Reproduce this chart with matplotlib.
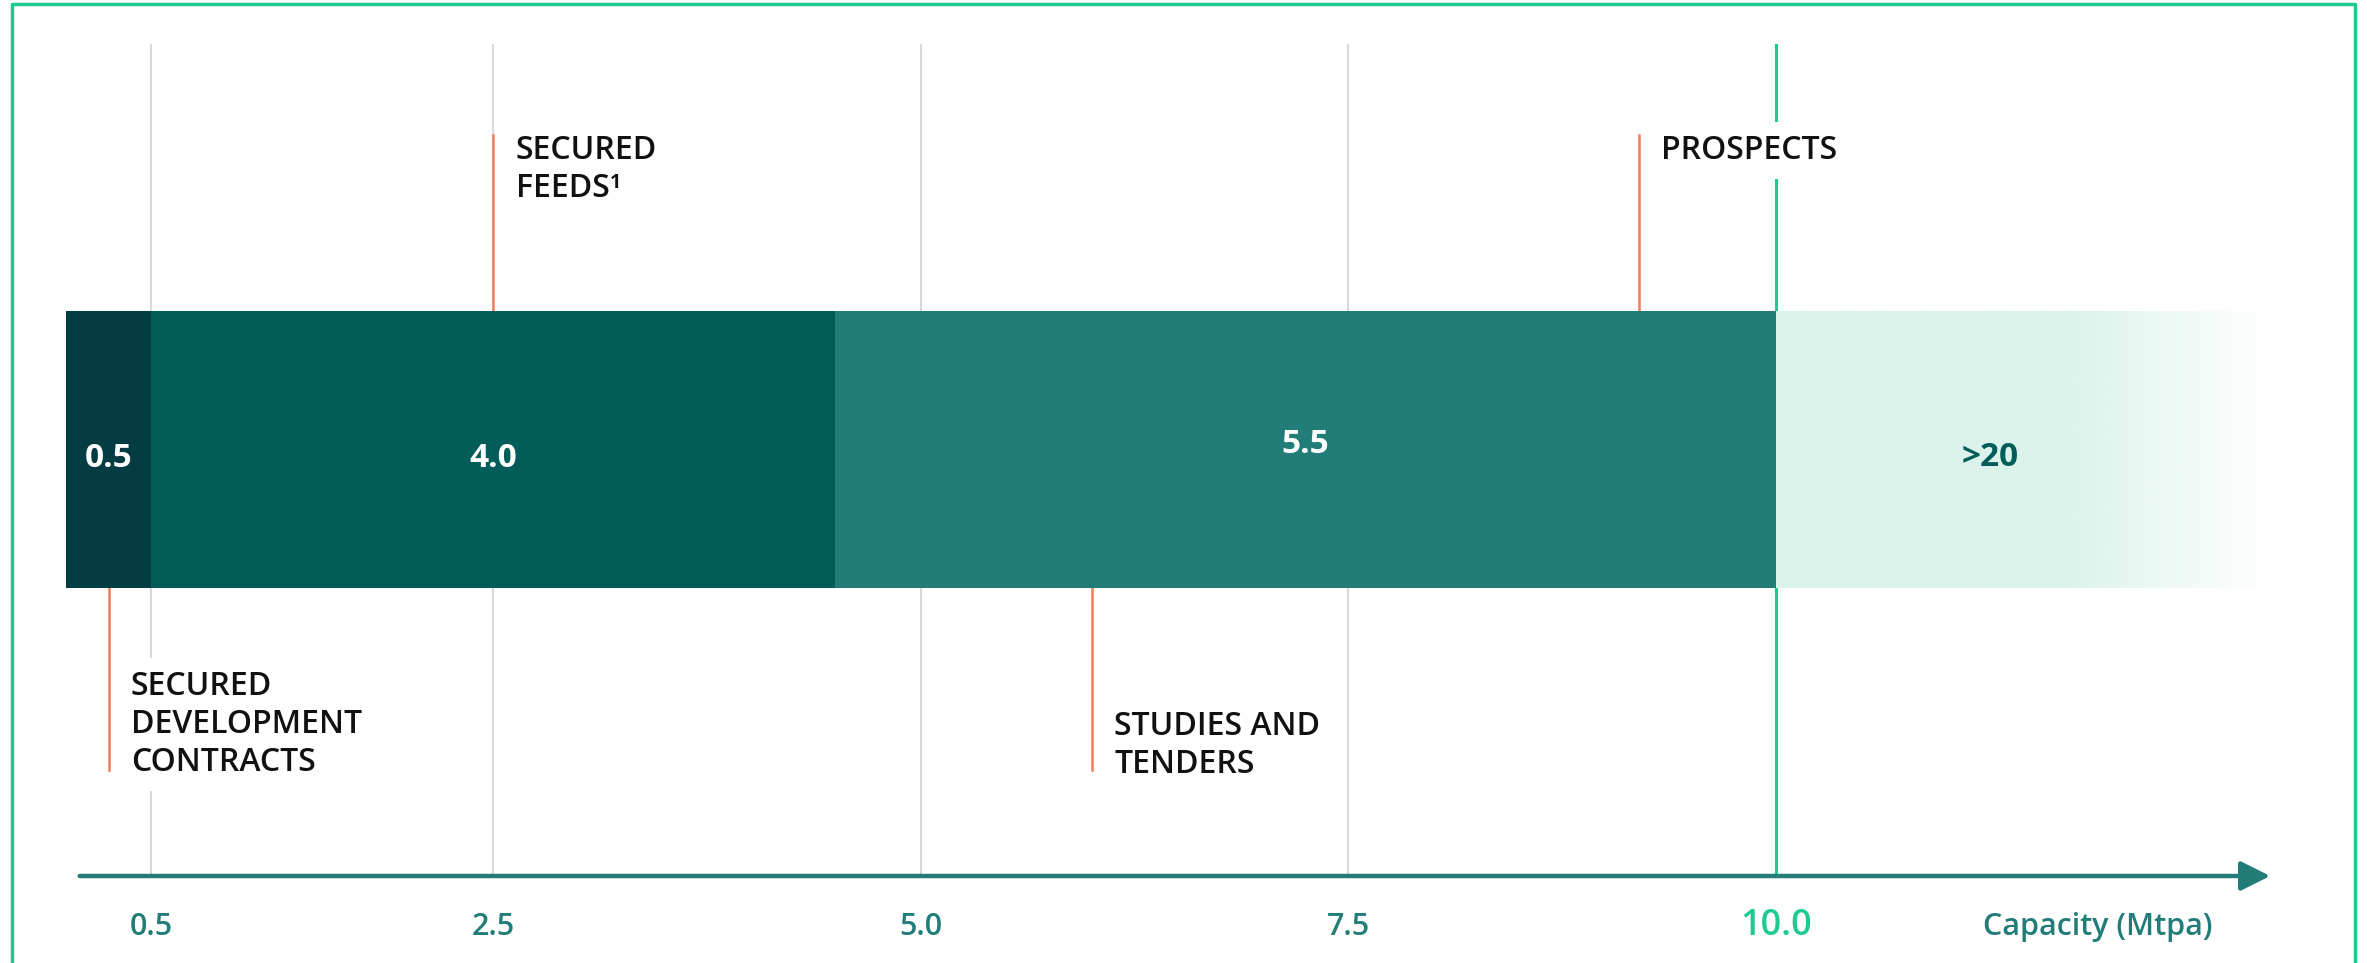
import numpy as np
import matplotlib
matplotlib.use("Agg")
import matplotlib.pyplot as plt
from matplotlib.lines import Line2D

plt.rcParams['font.family'] = ['Open Sans', 'DejaVu Sans']

# data
seg_values = [0.5, 4.0, 5.5]
seg_labels = ['0.5', '4.0', '5.5']
seg_colors = ['#033c42', '#025c59', '#227d79']
prospects_label = '>20'
tick_values = [0.5, 2.5, 5.0, 7.5, 10.0]
tick_labels = ['0.5', '2.5', '5.0', '7.5', '10.0']
stage_names = ['SECURED\nDEVELOPMENT\nCONTRACTS', 'SECURED\nFEEDS\u00b9',
               'STUDIES AND\nTENDERS', 'PROSPECTS']
stage_x = [0.25, 2.5, 6.0, 9.2]
stage_side = ['below', 'above', 'below', 'above']

W, H = 2367, 963
fig = plt.figure(figsize=(W / 100, H / 100), dpi=100)
ax = fig.add_axes([0, 0, 1, 1])
# x in Mtpa, y in pixels from the top
px_per_unit = 171.0
x0 = -66 / px_per_unit
ax.set_xlim(x0, x0 + W / px_per_unit)
ax.set_ylim(H, 0)
ax.axis('off')

teal = '#227d79'
green = '#1ccb8d'
orange = '#f47c5c'
bar_top, bar_bot = 311, 588
axis_y = 876

# grid lines
for v in tick_values[:-1]:
    ax.plot([v, v], [45, axis_y], color='#d9d9d9', lw=1.5, zorder=1)
ax.plot([10, 10], [45, axis_y], color=green, lw=2.2, zorder=1)

# stacked bar
lefts = np.concatenate([[0], np.cumsum(seg_values)[:-1]])
ax.barh((bar_top + bar_bot) / 2, seg_values, left=lefts, height=bar_bot - bar_top,
        color=seg_colors, zorder=3)
total = sum(seg_values)

# fading prospects bar
fade_end = 12.95
xs = np.linspace(total, fade_end, 400)
alpha = np.interp(xs, [total, 11.7, 12.3, 12.9], [1, 1, 0.45, 0])
img = np.zeros((1, len(xs), 4))
img[..., :3] = matplotlib.colors.to_rgb('#dbf3eb')
img[0, :, 3] = alpha
ax.imshow(img, extent=[total, fade_end, bar_bot, bar_top], aspect='auto',
          interpolation='bilinear', zorder=3)

# value labels
label_base = [467, 467, 453]
for left, v, lab, yb in zip(lefts, seg_values, seg_labels, label_base):
    ax.text(left + v / 2, yb, lab, ha='center', va='baseline', color='white',
            fontsize=24, fontweight='bold', zorder=5)
ax.text(11.25, 466, prospects_label, ha='center', va='baseline', color='#025c59',
        fontsize=24, fontweight='bold', zorder=5)

# stage leaders and labels
for name, sx, side in zip(stage_names, stage_x, stage_side):
    if side == 'above':
        ax.plot([sx, sx], [135, bar_top], color=orange, lw=1.8, zorder=2)
        ty = 134
    else:
        ax.plot([sx, sx], [bar_bot, 770], color=orange, lw=1.8, zorder=2)
        ty = 670 if name.count('\n') == 2 else 710
    ax.text(sx + 0.13, ty, name, ha='left', va='top', fontsize=23,
            fontweight='semibold', color='#111111', linespacing=1.2, zorder=6,
            bbox=dict(facecolor='white', edgecolor='none', pad=9))

# axis arrow
ax.annotate('', xy=(12.89, axis_y), xytext=(0.08, axis_y),
            arrowprops=dict(arrowstyle='-|>,head_length=0.9,head_width=0.45',
                            mutation_scale=20, lw=3.2, color=teal,
                            shrinkA=0, shrinkB=0), zorder=4)

# tick labels
for v, lab in zip(tick_values, tick_labels):
    big = v == 10.0
    ax.text(v, 935, lab, ha='center', va='baseline', fontweight='semibold',
            fontsize=26 if big else 22, color=green if big else teal)
ax.text(11.21, 935, 'Capacity (Mtpa)', ha='left', va='baseline', fontsize=22,
        fontweight='semibold', color=teal)

# frame
fig.add_artist(Line2D([12 / W, 12 / W, 2355 / W, 2355 / W], [0, 1 - 4 / H, 1 - 4 / H, 0],
                      transform=fig.transFigure, color=green, lw=2.5))

fig.savefig('out.png', dpi=100)
